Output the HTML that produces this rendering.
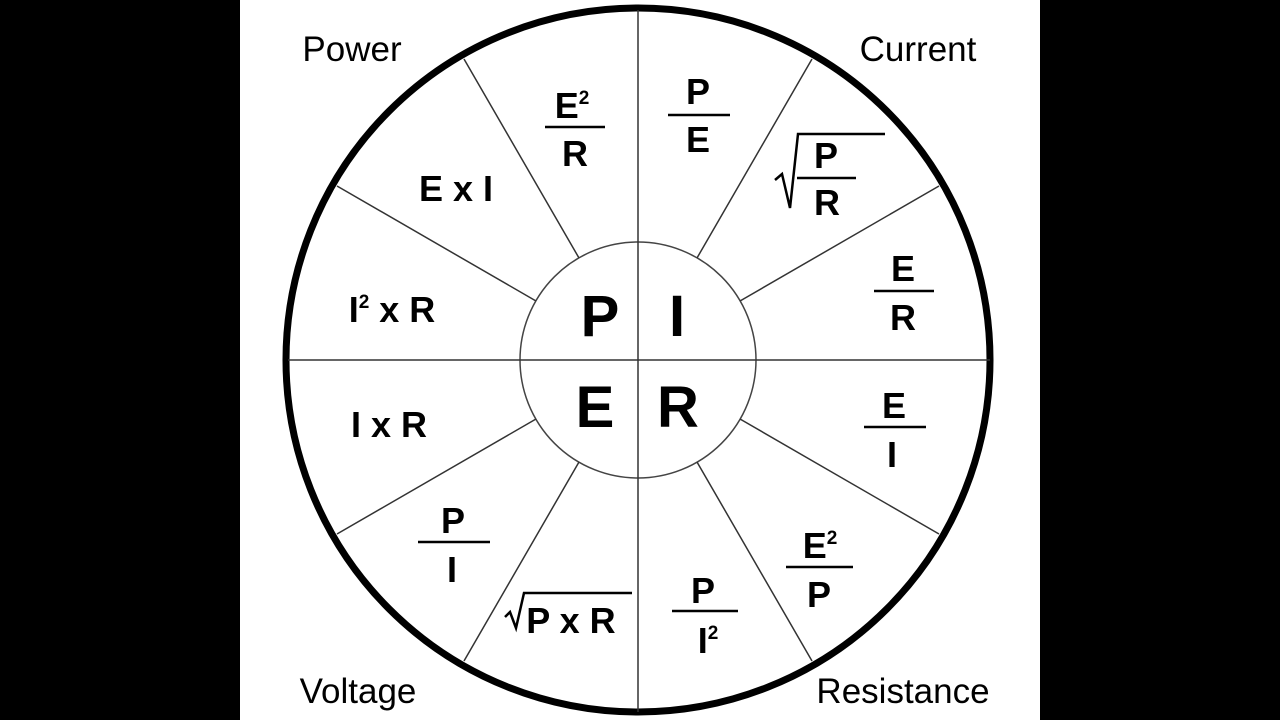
<!DOCTYPE html>
<html><head><style>
html,body{margin:0;padding:0;background:#000;}
svg{display:block}
text{font-family:"Liberation Sans",Arial,sans-serif;}
.f{font-size:36px;font-weight:bold;text-anchor:middle}
.c{font-size:58px;font-weight:bold;text-anchor:middle}
.l{font-size:35px;text-anchor:middle}
.s{font-size:19px;font-weight:bold}
</style></head><body>
<svg width="1280" height="720" viewBox="0 0 1280 720">
<rect x="0" y="0" width="1280" height="720" fill="#000"/>
<rect x="240" y="0" width="800" height="720" fill="#fff"/>
<circle cx="638" cy="360" r="352" fill="none" stroke="#000" stroke-width="7"/>
<circle cx="638" cy="360" r="118" fill="none" stroke="#444" stroke-width="1.5"/>
<g stroke="#333" stroke-width="1.5">
<line x1="638" y1="10" x2="638" y2="712"/>
<line x1="288" y1="360" x2="990" y2="360"/>
<line x1="579" y1="258" x2="464" y2="59"/>
<line x1="697" y1="258" x2="812" y2="59"/>
<line x1="536" y1="301" x2="337" y2="186"/>
<line x1="740" y1="301" x2="939" y2="186"/>
<line x1="536" y1="419" x2="337" y2="534"/>
<line x1="740" y1="419" x2="939" y2="534"/>
<line x1="579" y1="462" x2="464" y2="661"/>
<line x1="697" y1="462" x2="812" y2="661"/>
</g>
<text class="l" x="352" y="61">Power</text>
<text class="l" x="918" y="61">Current</text>
<text class="l" x="358" y="703">Voltage</text>
<text class="l" x="903" y="703">Resistance</text>
<text class="c" x="600" y="336">P</text>
<text class="c" x="677" y="336">I</text>
<text class="c" x="595" y="427">E</text>
<text class="c" x="678" y="427">R</text>
<g stroke="#000" stroke-width="2.5">
<line x1="545" y1="127" x2="605" y2="127"/>
<line x1="668" y1="115" x2="730" y2="115"/>
<line x1="874" y1="291" x2="934" y2="291"/>
<line x1="864" y1="427" x2="926" y2="427"/>
<line x1="418" y1="542" x2="490" y2="542"/>
<line x1="786" y1="567" x2="853" y2="567"/>
<line x1="672" y1="611" x2="738" y2="611"/>
<line x1="797" y1="178" x2="856" y2="178"/>
</g>
<text class="f" x="572" y="118">E<tspan class="s" dy="-14">2</tspan></text>
<text class="f" x="575" y="166">R</text>
<text class="f" x="698" y="104">P</text>
<text class="f" x="698" y="152">E</text>
<text class="f" x="456" y="201">E x I</text>
<text class="f" x="392" y="322">I<tspan class="s" dy="-14">2</tspan><tspan dy="14"> x R</tspan></text>
<text class="f" x="389" y="437">I x R</text>
<text class="f" x="903" y="281">E</text>
<text class="f" x="903" y="330">R</text>
<text class="f" x="894" y="418">E</text>
<text class="f" x="892" y="467">I</text>
<text class="f" x="453" y="533">P</text>
<text class="f" x="452" y="582">I</text>
<text class="f" x="820" y="558">E<tspan class="s" dy="-14">2</tspan></text>
<text class="f" x="819" y="607">P</text>
<text class="f" x="703" y="603">P</text>
<text class="f" x="708" y="653">I<tspan class="s" dy="-14">2</tspan></text>
<text class="f" x="826" y="168">P</text>
<text class="f" x="827" y="215">R</text>
<polyline points="775,180 782,174 790,208 798,134 885,134" fill="none" stroke="#000" stroke-width="2.5"/>
<text class="f" x="571" y="633">P x R</text>
<polyline points="505,617 510,612 516,628 524,593 632,593" fill="none" stroke="#000" stroke-width="2.5"/>
</svg>
</body></html>
